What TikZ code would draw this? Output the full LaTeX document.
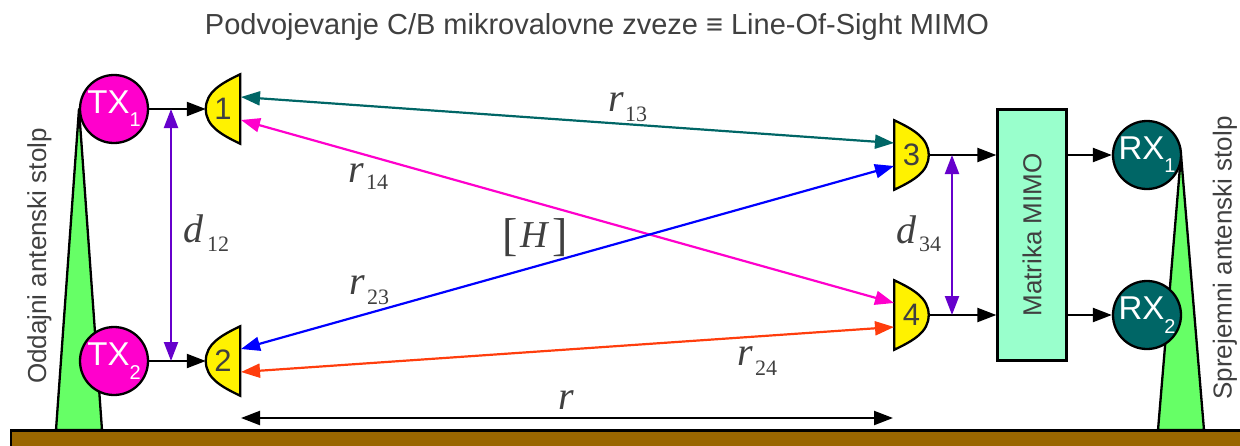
\documentclass[tikz,border=0pt]{standalone}
\usepackage{fontspec}
\setmainfont{Liberation Sans}
\newfontfamily\rmser{Liberation Serif}
\usetikzlibrary{arrows.meta,backgrounds}
\definecolor{txtc}{HTML}{404040}
\definecolor{teal1}{HTML}{006666}
\definecolor{purp}{HTML}{6600CC}
\definecolor{orng}{HTML}{FF3D0D}
\definecolor{magn}{HTML}{FF00CC}
\definecolor{blu}{HTML}{0000FF}
\definecolor{grn}{HTML}{66FF66}
\definecolor{brwn}{HTML}{996600}
\definecolor{mint}{HTML}{99FFCC}
\newcommand{\fs}[1]{\fontsize{#1}{#1}\selectfont}
\newcommand{\subdn}[2]{\raisebox{-#1pt}{\fs{20}#2}}
\newcommand{\antL}[1]{\begin{scope}[on background layer]\draw[line width=2.3pt,fill=yellow,line join=miter] (#1.north east) .. controls +(-19,9) and +(0,-17) .. (#1.west) .. controls +(0,17) and +(-19,-9) .. (#1.south east) -- cycle;\end{scope}}
\newcommand{\antR}[1]{\begin{scope}[on background layer]\draw[line width=2.3pt,fill=yellow,line join=miter] (#1.north west) .. controls +(19,9) and +(0,-17) .. (#1.east) .. controls +(0,17) and +(19,-9) .. (#1.south west) -- cycle;\end{scope}}
\tikzset{
  x=1pt,y=-1pt,
  every node/.style={text=txtc,font=\fs{26}},
  antbox/.style={minimum width=34pt,minimum height=69pt,inner sep=0pt,font=\fs{31}},
  tx/.style={circle,draw=black,line width=2.3pt,fill=magn,minimum size=68pt,inner sep=0pt,text=white,font=\fs{33}},
  rx/.style={tx,fill=teal1},
  feed/.style={line width=2.2pt,-{Triangle[length=19pt,width=14pt]}},
  twoway/.style={line width=2.2pt,{Triangle[length=19pt,width=14pt]}-{Triangle[length=19pt,width=14pt]}},
  tower/.style={draw=black,line width=2.3pt,fill=grn,line join=round},
  mainv/.style={anchor=base west,inner sep=0pt,font=\rmser\itshape\fs{40}},
  subv/.style={anchor=base west,inner sep=0pt,font=\rmser\fs{22}},
  vlabel/.style={rotate=90,inner sep=0pt}
}
\begin{document}
\begin{tikzpicture}
\useasboundingbox (0,0) rectangle (1240,445);
% ground and towers
\draw[line width=2.3pt,fill=brwn] (11,430.5) rectangle (1250,455);
\draw[tower] (79,109) -- (102,430) -- (56,430) -- cycle;
\draw[tower] (1181,155) -- (1204,430) -- (1158,430) -- cycle;
% title
\node[font=\fs{29}] (title) at (597,27) {Podvojevanje C/B mikrovalovne zveze ≡ Line-Of-Sight MIMO};
% transmitters and receivers
\node[tx] (tx1) at (114,109) {TX\subdn{13}{1}};
\node[tx] (tx2) at (114,361) {TX\subdn{14}{2}};
\node[rx] (rx1) at (1147,155) {RX\subdn{13}{1}};
\node[rx] (rx2) at (1147,315) {RX\subdn{14}{2}};
% antennas
\node[antbox] (a1) at (223,109) {1}; \antL{a1}
\node[antbox] (a2) at (223,361) {2}; \antL{a2}
\node[antbox] (a3) at (911.5,155) {3}; \antR{a3}
\node[antbox] (a4) at (911.5,315) {4}; \antR{a4}
% matrix
\node[draw=black,line width=2.3pt,fill=mint,minimum width=69pt,minimum height=251pt,inner sep=0pt] (mx) at (1032,235) {\rotatebox{90}{Matrika MIMO}};
% feeds
\draw[feed] (tx1) -- (a1.west);
\draw[feed] (tx2) -- (a2.west);
\coordinate (m3) at (mx.west |- a3.east);
\coordinate (m4) at (mx.west |- a4.east);
\coordinate (n1) at (mx.east |- rx1);
\coordinate (n2) at (mx.east |- rx2);
\draw[feed] (a3.east) -- (m3);
\draw[feed] (a4.east) -- (m4);
\draw[feed] (n1) -- (rx1);
\draw[feed] (n2) -- (rx2);
% links
\coordinate (p13) at (241,97);  \coordinate (q13) at (894,143);
\coordinate (p14) at (241,120); \coordinate (q14) at (894,303);
\coordinate (p23) at (241,349); \coordinate (q23) at (894,166);
\coordinate (p24) at (241,372); \coordinate (q24) at (894,327);
\draw[twoway,teal1] (p13) -- (q13);
\draw[twoway,magn] (p14) -- (q14);
\draw[twoway,blu] (p23) -- (q23);
\draw[twoway,orng] (p24) -- (q24);
% spacings
\coordinate (d1a) at (171,109); \coordinate (d1b) at (171,361);
\coordinate (d3a) at (952,155); \coordinate (d3b) at (952,315);
\draw[twoway,purp] (d1a) -- (d1b);
\draw[twoway,purp] (d3a) -- (d3b);
\coordinate (ra) at (241,418); \coordinate (rb) at (893,418);
\draw[twoway,black] (ra) -- (rb);
% math labels
\node[mainv] (lr13) at (608,111) {r}; \node[subv] (s13) at (625,121) {13};
\node[mainv] (lr14) at (348,182) {r}; \node[subv] (s14) at (366,189) {14};
\node[mainv] (lr23) at (349,294) {r}; \node[subv] (s23) at (367,304) {23};
\node[mainv] (lr24) at (737,365) {r}; \node[subv] (s24) at (755,375) {24};
\node[mainv] (lr) at (558,409) {r};
\node[mainv] (ld12) at (183,242) {d}; \node[subv] (s12) at (207,251) {12};
\node[mainv] (ld34) at (896,243) {d}; \node[subv] (s34) at (919,251) {34};
\node[anchor=base,inner sep=0pt,font=\rmser\fs{38}] (lh) at (535,247) {\raisebox{-3pt}{\fs{46}[}\kern3pt\textit{H}\kern3pt\raisebox{-3pt}{\fs{46}]}};
% side labels
\node[vlabel] (ll) at (39.5,256) {Oddajni antenski stolp};
\node[vlabel] (lrr) at (1225,258) {Sprejemni antenski stolp};
\end{tikzpicture}
\end{document}
